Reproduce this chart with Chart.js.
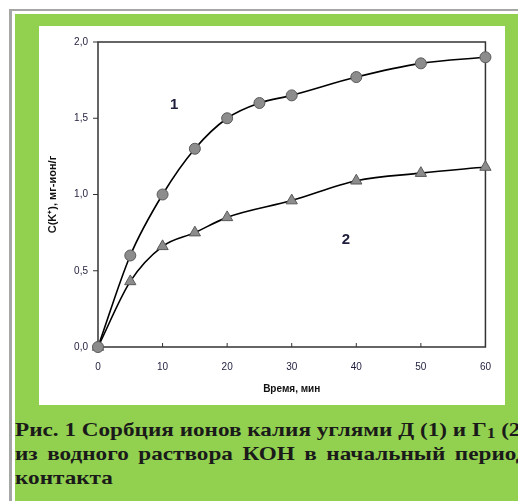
<!DOCTYPE html>
<html lang="ru">
<head>
<meta charset="utf-8">
<script src="https://cdn.jsdelivr.net/npm/chart.js@4.4.1/dist/chart.umd.min.js"></script>
<style>
  html, body { margin: 0; padding: 0; width: 518px; height: 501px; overflow: hidden; background: #fff; }
  #ramka { position: absolute; left: 9px; top: 9px; width: 520px; height: 500px;
           border-left: 3px solid #a6a6a6; border-top: 2px solid #a6a6a6; }
  #zelen { position: absolute; left: 15px; top: 14px; width: 520px; height: 500px; background: #92d050; }
  #panel { position: absolute; left: 39px; top: 26px; width: 466px; height: 379px; background: #fff; }
  #podpis { position: absolute; left: 15px; top: 418px;
            font-family: "Liberation Serif", "Times New Roman", serif; font-weight: bold;
            font-size: 19px; line-height: 24px; color: #1a1a1a; }
  /* строки подписи растянуты по ширине, шрифт немного шире обычного */
  .stroka { width: 420px; white-space: nowrap; text-align: justify; text-align-last: justify;
            transform: scaleX(1.22); transform-origin: 0 0; }
  .posl { width: 420px; white-space: nowrap; transform: scaleX(1.22); transform-origin: 0 0; }
  sub { font-size: 0.75em; vertical-align: -2px; line-height: 0; }
</style>
</head>
<body>
<div id="ramka"></div>
<div id="zelen"></div>
<div id="panel"><canvas id="myChart" width="466" height="379"></canvas></div>
<div id="podpis">
  <div class="stroka">Рис. 1 Сорбция ионов калия углями Д (1) и Г<sub>1</sub> (2)</div>
  <div class="stroka">из водного раствора КОН в начальный период</div>
  <div class="posl">контакта</div>
</div>
<script>
// время контакта, мин
const vremya_1 = [0, 5, 10, 15, 20, 25, 30, 40, 50, 60];
const vremya_2 = [0, 5, 10, 15, 20, 30, 40, 50, 60];
// C(K+), мг-ион/г
const sorbciya_1 = [0, 0.60, 1.00, 1.30, 1.50, 1.60, 1.65, 1.77, 1.86, 1.90];
const sorbciya_2 = [0, 0.43, 0.66, 0.75, 0.85, 0.96, 1.09, 1.14, 1.18];
const nazvaniya = ["1", "2"];

const cvet_teksta = "#1e1e3c";

/* рамка графика, засечки и номера кривых */
const oformlenie = {
  id: "oformlenie",
  beforeDatasetsDraw(chart) {
    const { ctx, chartArea: a, scales } = chart;
    ctx.save();
    ctx.strokeStyle = "#333";
    ctx.lineWidth = 1.5;
    ctx.strokeRect(a.left, a.top, a.right - a.left, a.bottom - a.top);
    ctx.lineWidth = 1;
    scales.y.ticks.forEach(t => {
      const y = scales.y.getPixelForValue(t.value);
      ctx.beginPath(); ctx.moveTo(a.left - 5, y); ctx.lineTo(a.left, y); ctx.stroke();
    });
    scales.x.ticks.forEach(t => {
      const x = scales.x.getPixelForValue(t.value);
      ctx.beginPath(); ctx.moveTo(x, a.bottom); ctx.lineTo(x, a.bottom - 4); ctx.stroke();
    });
    ctx.restore();
  },
  afterDatasetsDraw(chart) {
    const { ctx, scales } = chart;
    const mesta = [[11.8, 1.59], [38.4, 0.70]];
    ctx.save();
    ctx.fillStyle = cvet_teksta;
    ctx.font = "bold 15px Arial, 'Liberation Sans', sans-serif";
    ctx.textAlign = "center";
    ctx.textBaseline = "middle";
    nazvaniya.forEach((n, i) => {
      ctx.fillText(n, scales.x.getPixelForValue(mesta[i][0]), scales.y.getPixelForValue(mesta[i][1]));
    });
    ctx.restore();
  }
};

const shrift = { family: "Arial, 'Liberation Sans', sans-serif", size: 10 };

const config = {
  type: "line",
  data: {
    datasets: [
      {
        label: nazvaniya[0],
        data: vremya_1.map((t, i) => ({ x: t, y: sorbciya_1[i] })),
        borderColor: "#000",
        borderWidth: 1.6,
        cubicInterpolationMode: "monotone",
        pointStyle: "circle",
        pointRadius: 5.5,
        pointBackgroundColor: "#8c8c8c",
        pointBorderColor: "#5a5a5a",
        pointBorderWidth: 1,
        clip: false
      },
      {
        label: nazvaniya[1],
        data: vremya_2.map((t, i) => ({ x: t, y: sorbciya_2[i] })),
        borderColor: "#000",
        borderWidth: 1.6,
        cubicInterpolationMode: "monotone",
        pointStyle: "triangle",
        pointRadius: 6.5,
        pointBackgroundColor: "#8c8c8c",
        pointBorderColor: "#5a5a5a",
        pointBorderWidth: 1,
        clip: false
      }
    ]
  },
  options: {
    responsive: false,
    animation: false,
    layout: { padding: { top: 12, right: 15, left: 0, bottom: 0 } },
    plugins: { legend: { display: false }, tooltip: { enabled: false } },
    scales: {
      x: {
        type: "linear",
        min: 0, max: 60,
        grid: { display: false, drawTicks: false },
        border: { display: false },
        ticks: { stepSize: 10, padding: 14, color: cvet_teksta, font: shrift },
        title: {
          display: true, text: "Время, мин", color: "#111",
          font: { family: shrift.family, size: 10, weight: "bold" },
          padding: { top: 8, bottom: 10 }
        },
        afterFit(s) { s.height = 58; }
      },
      y: {
        min: 0, max: 2,
        grid: { display: false, drawTicks: false },
        border: { display: false },
        ticks: {
          stepSize: 0.5, padding: 10, color: cvet_teksta, font: shrift,
          callback: v => v.toFixed(1).replace(".", ",")
        },
        title: {
          display: true, text: "C(K⁺), мг-ион/г", color: "#111",
          font: { family: shrift.family, size: 11, weight: "bold" },
          padding: { top: 7, bottom: 4 }
        },
        afterFit(s) { s.width = 59; }
      }
    }
  },
  plugins: [oformlenie]
};

const ctx = document.getElementById("myChart").getContext("2d");
const myChart = new Chart(ctx, config);
</script>
</body>
</html>
